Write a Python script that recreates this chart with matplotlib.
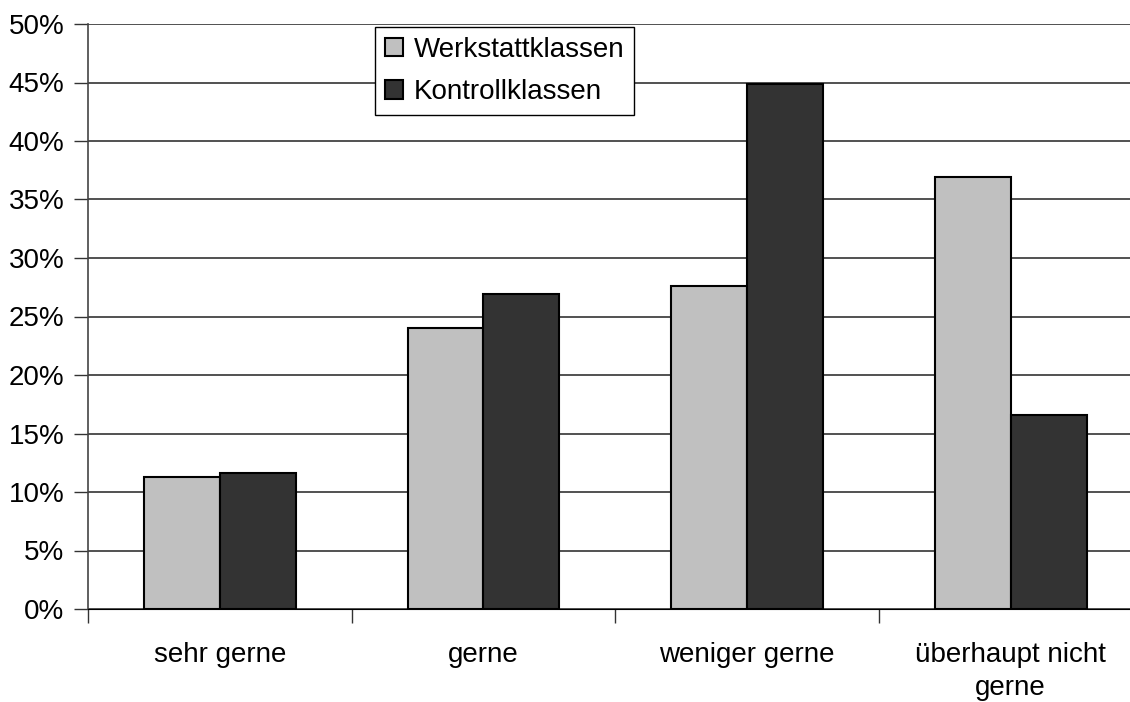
import numpy as np
import matplotlib.pyplot as plt
from matplotlib.ticker import FuncFormatter

# Daten
kategorien = ["sehr gerne", "gerne", "weniger gerne", "überhaupt nicht\ngerne"]
werkstatt = [11.3, 24.0, 27.6, 36.9]
kontroll = [11.6, 26.9, 44.9, 16.6]
serien = ["Werkstattklassen", "Kontrollklassen"]

plt.rcParams["font.family"] = ["Liberation Sans", "DejaVu Sans"]

fig = plt.figure(figsize=(11.30, 7.02), dpi=100)
ax = fig.add_axes([88 / 1130, 1 - 609 / 702, (1142.5 - 88) / 1130, (609 - 24) / 702])

x = np.arange(len(kategorien))
breite = 0.288
ax.bar(x - breite / 2, werkstatt, breite, color="#C0C0C0", edgecolor="black",
       linewidth=1.5, label=serien[0], zorder=3)
ax.bar(x + breite / 2, kontroll, breite, color="#333333", edgecolor="black",
       linewidth=1.5, label=serien[1], zorder=3)

# Achsen
ax.set_xlim(-0.5, len(kategorien) - 0.5)
ax.set_ylim(0, 50)
ax.set_yticks(np.arange(0, 51, 5))
ax.yaxis.set_major_formatter(FuncFormatter(lambda v, p: f"{v:.0f}%"))
ax.yaxis.grid(True, color="#222222", linewidth=1.1, zorder=0)

ax.set_xticks(np.arange(-0.5, len(kategorien), 1.0))
ax.set_xticklabels([])
ax.set_xticks(x, minor=True)
ax.set_xticklabels(kategorien, minor=True, fontsize=20)
ax.tick_params(axis="x", which="minor", length=0, pad=24)
ax.tick_params(axis="x", which="major", length=10, width=1, color="#333333")
ax.tick_params(axis="y", length=10, width=1, pad=7, labelsize=20, color="#333333")

for lbl in ax.get_xticklabels(minor=True):
    lbl.set_linespacing(1.35)

ax.spines["top"].set_visible(False)
ax.spines["right"].set_visible(False)
ax.spines["left"].set_color("#444444")
ax.spines["left"].set_linewidth(1.2)
ax.spines["bottom"].set_color("black")
ax.spines["bottom"].set_zorder(4)

leg = ax.legend(loc="upper left", bbox_to_anchor=(375 / 1130, 1 - 27 / 702),
                bbox_transform=fig.transFigure, fontsize=20, fancybox=False,
                framealpha=1, edgecolor="black", handlelength=0.65,
                handleheight=0.65, handletextpad=0.4, borderpad=0.35,
                labelspacing=0.6, borderaxespad=0)
leg.get_frame().set_linewidth(1.0)
leg.set_zorder(5)

plt.savefig("out.png", dpi=100)
